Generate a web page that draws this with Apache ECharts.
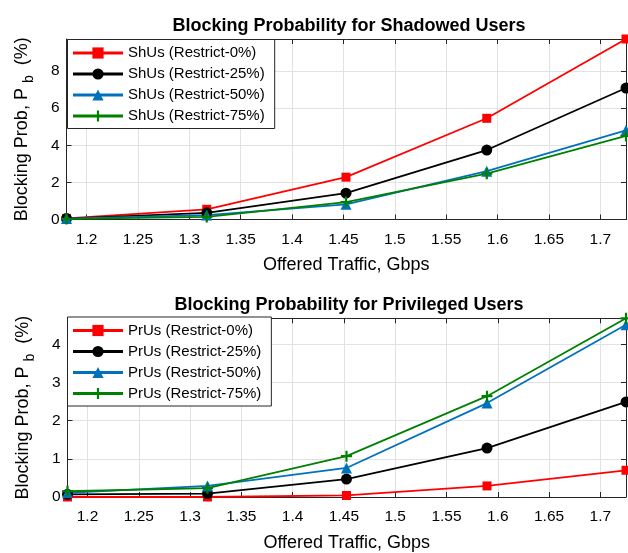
<!DOCTYPE html>
<html>
<head>
<meta charset="utf-8">
<script src="https://cdn.jsdelivr.net/npm/echarts@6/dist/echarts.min.js"></script>
<style>
html,body{margin:0;padding:0;background:#fff;}
#c{width:628px;height:553px;}
</style>
</head>
<body>
<div id="c"></div>
<script>
// ---- data ----
const xValues = [1.1805, 1.317, 1.4525, 1.5895, 1.725];
const xTicks = [1.2, 1.25, 1.3, 1.35, 1.4, 1.45, 1.5, 1.55, 1.6, 1.65, 1.7];
const yTicksTop = [0, 2, 4, 6, 8];
const yTicksBottom = [0, 1, 2, 3, 4];

const shNames = ['ShUs (Restrict-0%)', 'ShUs (Restrict-25%)', 'ShUs (Restrict-50%)', 'ShUs (Restrict-75%)'];
const shRestrict0  = [0.06, 0.55, 2.28, 5.45, 9.72];
const shRestrict25 = [0.05, 0.36, 1.42, 3.74, 7.08];
const shRestrict50 = [0.05, 0.24, 0.82, 2.60, 4.80];
const shRestrict75 = [0.03, 0.14, 0.94, 2.47, 4.50];

const prNames = ['PrUs (Restrict-0%)', 'PrUs (Restrict-25%)', 'PrUs (Restrict-50%)', 'PrUs (Restrict-75%)'];
const prRestrict0  = [0.00, 0.00, 0.04, 0.29, 0.70];
const prRestrict25 = [0.07, 0.09, 0.47, 1.28, 2.49];
const prRestrict50 = [0.11, 0.29, 0.76, 2.46, 4.51];
const prRestrict75 = [0.15, 0.23, 1.07, 2.64, 4.68];

const titleTop = 'Blocking Probability for Shadowed Users';
const titleBottom = 'Blocking Probability for Privileged Users';
const xName = 'Offered Traffic, Gbps';

// ---- styles ----
const colors = ['#ff0000', '#000000', '#0072bd', '#008000'];
const symbols = ['rect', 'circle', 'triangle', 'path://M4,0H6V10H4Z M0,4H10V6H0Z'];
const symbolSizes = [9, 11, 11, 11];
const FONT = 'Liberation Sans, Arial, Helvetica, sans-serif';
const AX = '#262626';

const grids = [
  {left: 66.5, top: 39, width: 559.5, height: 180.5},
  {left: 67.5, top: 318.3, width: 558.5, height: 179.2}
];
const xMin = xValues[0], xMax = xValues[xValues.length - 1];
const yMax = [Math.max(...shRestrict0), Math.max(...prRestrict75)];

function fmt(v){ return String(+(+v).toFixed(2)); }

function xAxis(gi, pos){
  const main = pos === 'bottom';
  return {
    type: 'value', gridIndex: gi, position: pos, min: xMin, max: xMax,
    name: main ? xName : '', nameLocation: 'middle', nameGap: 37,
    nameTextStyle: {fontFamily: FONT, fontSize: 18, color: '#000'},
    axisLine: {show: true, onZero: false, lineStyle: {color: AX, width: 1}},
    axisTick: {show: true, inside: true, length: 5, customValues: xTicks, lineStyle: {color: AX}},
    axisLabel: {show: main, customValues: xTicks, margin: 12, formatter: fmt,
      fontFamily: FONT, fontSize: 15.5, color: '#000'},
    splitLine: {show: main, lineStyle: {color: '#e2e2e2', width: 1}}
  };
}
function yAxis(gi, pos, ticks){
  const main = pos === 'left';
  return {
    type: 'value', gridIndex: gi, position: pos, min: 0, max: yMax[gi],
    name: main ? 'Blocking Prob, P {s|b}  (%)' : '', nameLocation: 'middle', nameGap: 30,
    nameTextStyle: {fontFamily: FONT, fontSize: 18, color: '#000', lineHeight: 28,
      rich: {s: {fontFamily: FONT, fontSize: 14, color: '#000', verticalAlign: 'bottom', lineHeight: 28}}},
    axisLine: {show: true, onZero: false, lineStyle: {color: AX, width: 1}},
    axisTick: {show: true, inside: true, length: 5, customValues: ticks, lineStyle: {color: AX}},
    axisLabel: {show: main, customValues: ticks, margin: 7, formatter: fmt,
      fontFamily: FONT, fontSize: 15.5, color: '#000'},
    splitLine: {show: main, lineStyle: {color: '#e2e2e2', width: 1}}
  };
}

function mkSeries(names, arrays, gi){
  return arrays.map((vals, i) => ({
    name: names[i], type: 'line', xAxisIndex: gi * 2, yAxisIndex: gi * 2,
    data: xValues.map((x, k) => [x, vals[k]]),
    symbol: symbols[i], symbolSize: symbolSizes[i],
    showAllSymbol: true, clip: false,
    lineStyle: {color: colors[i], width: 1.8},
    itemStyle: {color: colors[i], borderWidth: 0},
    emphasis: {disabled: true}
  }));
}

function mkLegend(names, top){
  return {
    data: names, left: 67.5, top: top, orient: 'vertical',
    itemWidth: 50, itemHeight: 14, itemGap: 6,
    padding: [6, 10, 5, 4], backgroundColor: '#fff',
    borderColor: AX, borderWidth: 1,
    textStyle: {fontFamily: FONT, fontSize: 15, color: '#000', lineHeight: 15},
    lineStyle: {width: 3}, selectedMode: false
  };
}

const chart = echarts.init(document.getElementById('c'), null, {renderer: 'canvas'});
chart.setOption({
  animation: false,
  backgroundColor: '#fff',
  grid: grids,
  xAxis: [xAxis(0, 'bottom'), xAxis(0, 'top'), xAxis(1, 'bottom'), xAxis(1, 'top')],
  yAxis: [yAxis(0, 'left', yTicksTop), yAxis(0, 'right', yTicksTop), yAxis(1, 'left', yTicksBottom), yAxis(1, 'right', yTicksBottom)],
  legend: [mkLegend(shNames, 39.5), mkLegend(prNames, 317)],
  graphic: [
    {type: 'text', x: 349, y: 26, z: 100, style: {text: titleTop, fontFamily: FONT, fontSize: 18, fontWeight: 'bold', fill: '#000', align: 'center', verticalAlign: 'middle'}},
    {type: 'text', x: 349, y: 305.5, z: 100, style: {text: titleBottom, fontFamily: FONT, fontSize: 18, fontWeight: 'bold', fill: '#000', align: 'center', verticalAlign: 'middle'}}
  ],
  series: [].concat(
    mkSeries(shNames, [shRestrict0, shRestrict25, shRestrict50, shRestrict75], 0),
    mkSeries(prNames, [prRestrict0, prRestrict25, prRestrict50, prRestrict75], 1)
  )
});
</script>
</body>
</html>
